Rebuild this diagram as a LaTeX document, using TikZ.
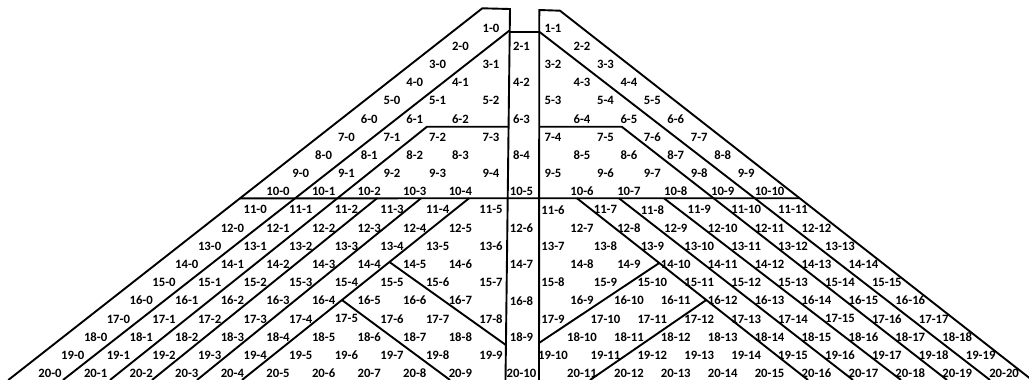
\documentclass[tikz,border=0pt]{standalone}
\usepackage{fontspec}
\setmainfont{Carlito}
\usetikzlibrary{calc}
\begin{document}
\begin{tikzpicture}[x=1pt,y=-1pt,
  ln/.style={line width=1.9pt,black},
  lbl/.style={font=\fontsize{12.7}{14}\selectfont\bfseries,inner sep=0pt,anchor=center}]
\useasboundingbox (0,0) rectangle (1029,380);
\fill[white] (0,0) rectangle (1029,380);
% ---------- frame ----------
\coordinate (TLa) at (482.3,8.3);
\coordinate (TLb) at (510,9);
\coordinate (SLb) at (505.5,380);
\coordinate (OLb) at (8.3,380);
\coordinate (TRa) at (539.3,10);
\coordinate (TRb) at (560,10.7);
\coordinate (SRb) at (539,380);
\coordinate (ORb) at (1032,380);
\draw[ln] (OLb) -- (TLa) -- (TLb) -- (SLb);
\draw[ln] (SRb) -- (TRa) -- (TRb) -- (ORb);
% strip top
\coordinate (STl) at (509.7,31.7);
\coordinate (STr) at (539.2,31.7);
\draw[ln] (STl) -- (STr);
% first inner lines
\coordinate (c01t) at (509.5,30.5);
\coordinate (c01b) at (63,380);
\draw[ln] (c01t) -- (c01b);
\coordinate (d01b) at (990,380);
\draw[ln] (STr) -- (d01b);
% row 6/7 boundaries
\coordinate (c12t) at (427,126.7);
\coordinate (c12b) at (110,380);
\coordinate (H6l) at (508.6,126.7);
\draw[ln] (H6l) -- (c12t) -- (c12b);
\coordinate (d12t) at (621.7,126.7);
\coordinate (d12b) at (947,380);
\coordinate (H6r) at (539.1,126.7);
\draw[ln] (H6r) -- (d12t) -- (d12b);
% row 10/11 boundary
\coordinate (H10a) at (0,198.3);
\coordinate (H10b) at (1029,198.3);
\coordinate (H10l) at (intersection of OLb--TLa and H10a--H10b);
\coordinate (H10r) at (intersection of TRb--ORb and H10a--H10b);
\draw[ln] (H10l) -- (H10r);
% lower left columns
\coordinate (c23t) at (377,198.3); \coordinate (c23b) at (152,380);
\coordinate (c34t) at (421,198.3); \coordinate (c34b) at (197,380);
\coordinate (c45t) at (469,198.3); \coordinate (c45b) at (242,380);
\draw[ln] (c23t) -- (c23b);
\draw[ln] (c34t) -- (c34b);
\draw[ln] (c45t) -- (c45b);
% lower right columns
\coordinate (d45t) at (577,198.3); \coordinate (d45b) at (808,380);
\coordinate (d34t) at (619,198.3); \coordinate (d34b) at (853,380);
\coordinate (d23t) at (664,198.3); \coordinate (d23b) at (901,380);
\draw[ln] (d45t) -- (d45b);
\draw[ln] (d34t) -- (d34b);
\draw[ln] (d23t) -- (d23b);
% branching lines
\coordinate (A1) at ($(c45t)!0.3506!(c45b)$);
\coordinate (A1e) at (505.9,345);
\coordinate (A2) at ($(c45t)!0.5597!(c45b)$);
\coordinate (A2e) at (450,380);
\draw[ln] (A1) -- (A1e);
\draw[ln] (A2) -- (A2e);
\coordinate (B1) at ($(d45t)!0.356!(d45b)$);
\coordinate (B1e) at (539,343);
\coordinate (B2) at ($(d45t)!0.5597!(d45b)$);
\coordinate (B2e) at (590,380);
\draw[ln] (B1) -- (B1e);
\draw[ln] (B2) -- (B2e);
% ---------- labels ----------
\foreach \r in {1,...,20}{
  \foreach \c in {0,...,\r}{
    \pgfmathtruncatemacro{\j}{20-\r+2*\c}
    \ifnum\j<19 \pgfmathsetmacro{\xx}{50+22.8*\j}\fi
    \ifnum\j=19 \def\xx{491}\fi
    \ifnum\j=20 \def\xx{521.5}\fi
    \ifnum\j=21 \def\xx{553}\fi
    \ifnum\j>21 \pgfmathsetmacro{\xx}{582+23.45*(\j-22)}\fi
    \pgfmathsetmacro{\yy}{28+(\r-1)*18.18}
    \node[lbl] (n\r-\c) at (\xx,\yy) {\r-\c};
  }
}
\end{tikzpicture}
\end{document}
